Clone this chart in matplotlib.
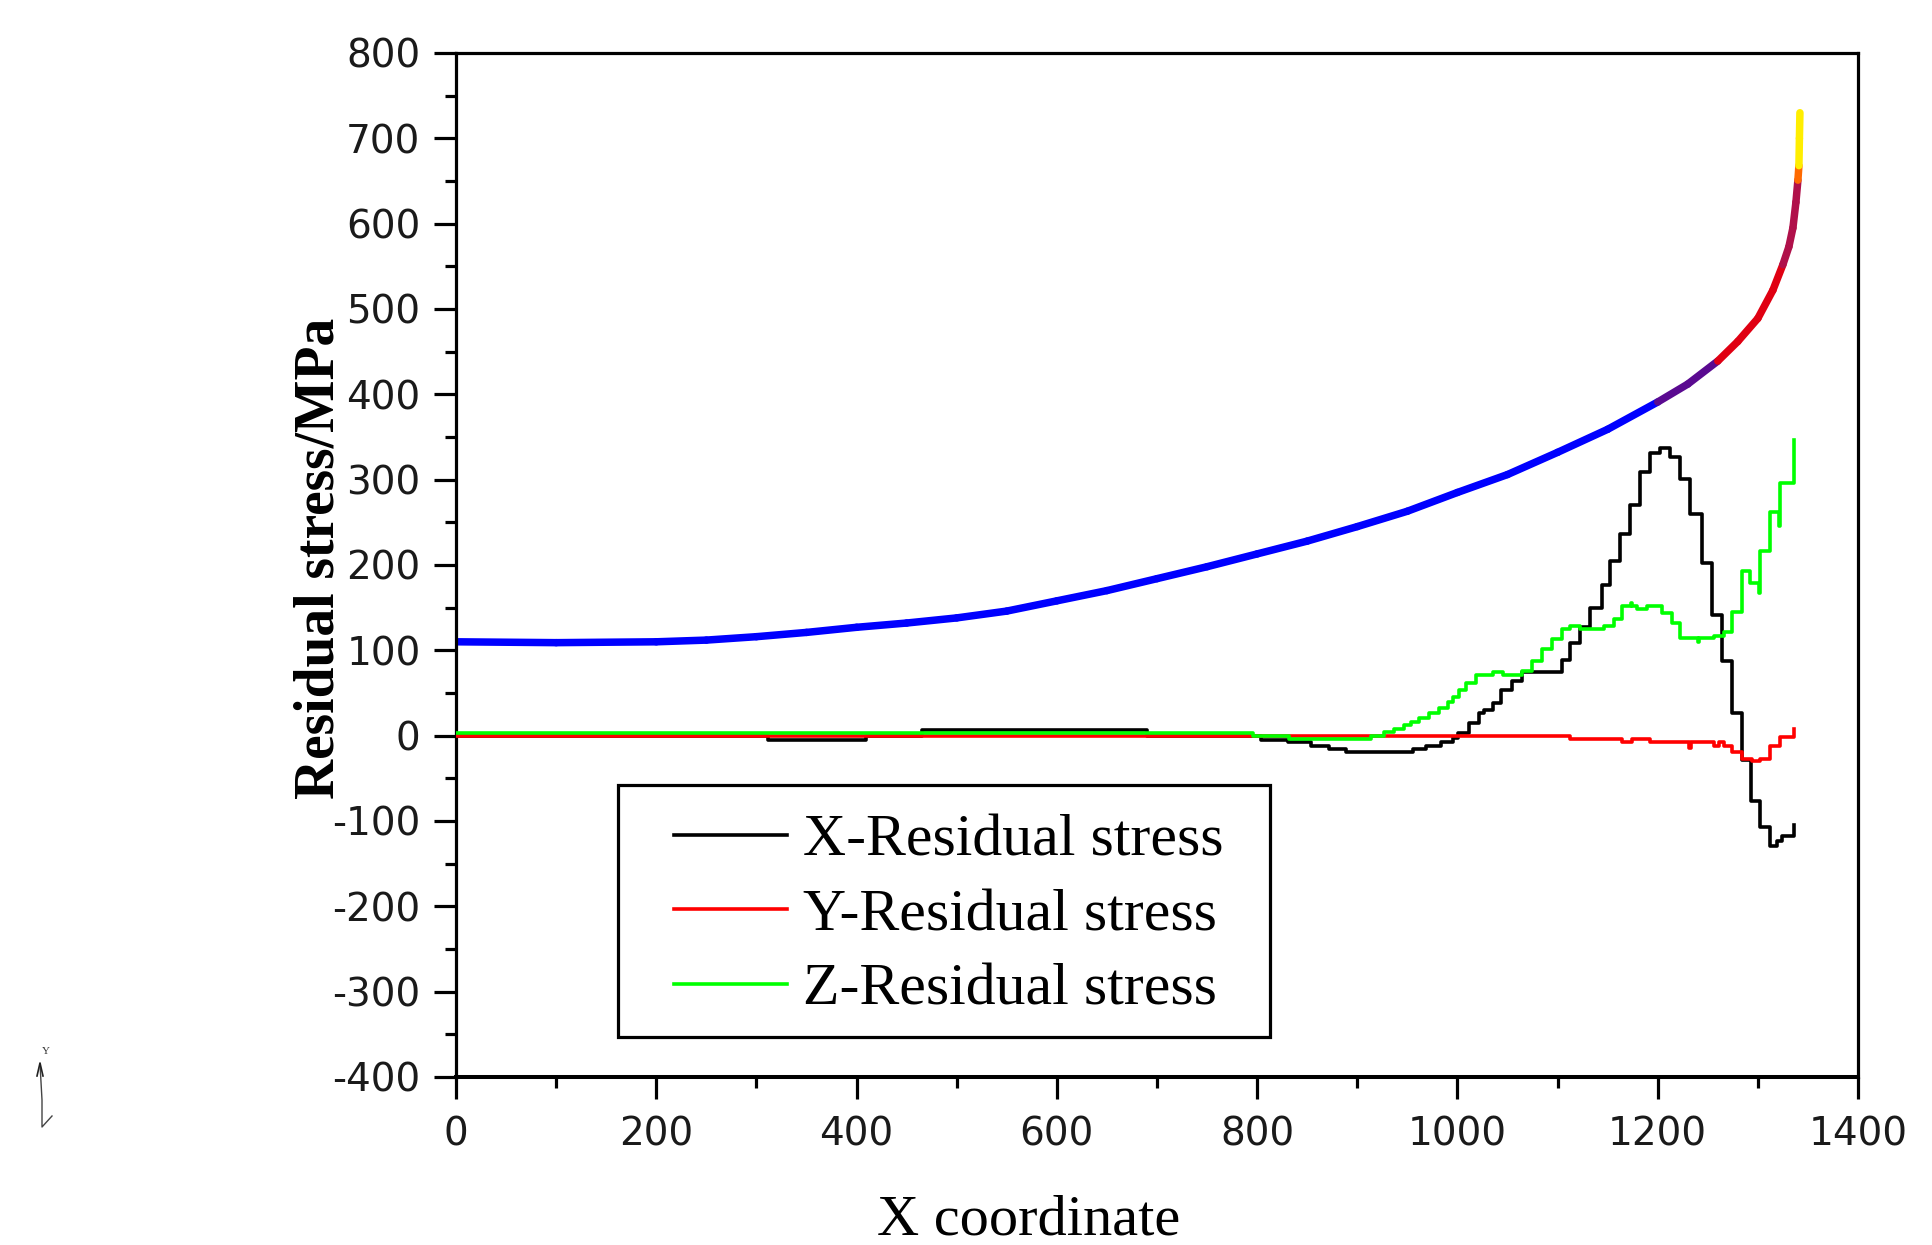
import matplotlib
matplotlib.use("Agg")
import matplotlib.pyplot as plt
import numpy as np
from matplotlib.collections import LineCollection
from matplotlib.colors import ListedColormap, BoundaryNorm
from matplotlib.lines import Line2D
from matplotlib.patches import Rectangle

plt.rcParams['axes.unicode_minus'] = False

# ---------------- data ----------------
# envelope curve (thick, colour-coded by value)
env_x = [0, 100, 200, 250, 300, 350, 400, 450, 500, 550, 600, 650, 700, 750, 800,
         850, 900, 950, 1000, 1050, 1100, 1150, 1200, 1230, 1260, 1280, 1300, 1315,
         1325, 1331, 1335, 1338, 1340, 1341, 1341.5, 1342]
env_y = [110, 109, 110, 112, 116, 121, 127, 132, 138, 146, 158, 170, 184, 198, 213,
         228, 245, 263, 285, 306, 332, 359, 391, 412, 439, 462, 489, 522,
         552, 573, 595, 625, 651, 668, 700, 730]

# X-Residual stress (step data)
sx_x = [0, 312, 409, 465, 690, 804, 831, 854, 872, 889, 956, 969, 984, 996, 1001,
        1012, 1022, 1027, 1036, 1044, 1054, 1064, 1104, 1112, 1122, 1132, 1144, 1152,
        1162, 1172, 1182, 1192, 1202, 1212, 1222, 1232, 1244, 1254, 1264, 1274, 1284,
        1293, 1302, 1312, 1319, 1324, 1336]
sx_y = [0, -5, 0, 7, 0, -5, -8, -12, -16, -19, -16, -12, -7, -3, 3,
        15, 27, 30, 38, 53, 64, 75, 89, 109, 127, 150, 177, 205,
        236, 270, 309, 331, 337, 326, 301, 260, 202, 141, 88, 27, -29,
        -77, -107, -129, -124, -117, -105]

# Y-Residual stress (step data)
sy_x = [0, 1112, 1164, 1174, 1192, 1231, 1233, 1256, 1261, 1266, 1274, 1284, 1294,
        1302, 1312, 1322, 1336]
sy_y = [0, -4, -7, -4, -7, -14, -7, -12, -7, -12, -19, -27, -30,
        -27, -12, -1, 8]

# Z-Residual stress (step data)
sz_x = [0, 796, 832, 914, 927, 937, 947, 954, 962, 972, 982, 991, 996, 1002, 1009,
        1019, 1036, 1046, 1064, 1074, 1084, 1094, 1104, 1112, 1122, 1146, 1156, 1164,
        1173, 1174, 1179, 1189, 1204, 1214, 1222, 1240, 1241, 1256, 1266, 1274, 1284,
        1292, 1301, 1302, 1312, 1321, 1322, 1336]
sz_y = [3.5, 0, -4, 0, 4, 8, 12, 16, 21, 27, 33, 39, 45, 53, 62,
        71, 75, 71, 76, 88, 102, 113, 125, 128, 125, 128, 137, 152,
        156, 152, 148, 152, 144, 132, 114, 110, 114, 117, 122, 145, 193,
        179, 167, 216, 262, 246, 296, 346]

series_labels = ["X-Residual stress", "Y-Residual stress", "Z-Residual stress"]
xticks = [0, 200, 400, 600, 800, 1000, 1200, 1400]
yticks = [-400, -300, -200, -100, 0, 100, 200, 300, 400, 500, 600, 700, 800]

# ---------------- figure ----------------
W, H = 1932, 1245
fig = plt.figure(figsize=(W / 100, H / 100), dpi=100)
L, R, T, B = 456, 1858, 53, 1077
ax = fig.add_axes([L / W, 1 - B / H, (R - L) / W, (B - T) / H])

# envelope curve coloured by value
ex = np.array(env_x, float)
ey = np.array(env_y, float)
pts = np.column_stack([ex, ey]).reshape(-1, 1, 2)
segs = np.concatenate([pts[:-1], pts[1:]], axis=1)
mid = 0.5 * (ey[:-1] + ey[1:])
cmap = ListedColormap(['#0000ff', '#5a0a90', '#e00012', '#b0104a', '#ff6a00', '#ffee00'])
norm = BoundaryNorm([-1000, 398, 428, 560, 645, 668, 2000], cmap.N)
lc = LineCollection(segs, cmap=cmap, norm=norm, linewidths=5.4, capstyle='round',
                    joinstyle='round', zorder=2)
lc.set_array(mid)
ax.add_collection(lc)

lw = 2.6
ax.step(sx_x, sx_y, where='post', color='#000000', lw=lw, label=series_labels[0], zorder=3)
ax.step(sy_x, sy_y, where='post', color='#ff0000', lw=lw, label=series_labels[1], zorder=4)
ax.step(sz_x, sz_y, where='post', color='#00ff00', lw=lw, label=series_labels[2], zorder=5)

ax.set_xlim(0, 1400)
ax.set_ylim(-400, 800)
ax.set_xticks(xticks)
ax.set_xticks(np.arange(0, 1401, 100), minor=True)
ax.set_yticks(yticks)
ax.set_yticks(np.arange(-400, 801, 50), minor=True)
ax.set_xticklabels([str(v) for v in xticks])
ax.set_yticklabels([str(v) for v in yticks])

for s in ax.spines.values():
    s.set_linewidth(2.3)
ax.spines['bottom'].set_linewidth(2.9)

ax.tick_params(axis='both', which='major', direction='out', length=15.5, width=2.3,
               labelsize=28, top=False, right=False)
ax.tick_params(axis='both', which='minor', direction='out', length=8, width=2.3,
               top=False, right=False)
ax.tick_params(axis='x', which='major', pad=12)
ax.tick_params(axis='y', which='major', pad=10)
for lab in ax.get_xticklabels() + ax.get_yticklabels():
    lab.set_fontfamily('DejaVu Sans')
    lab.set_color('#1a1a1a')

ax.set_ylabel("Residual stress/MPa", fontfamily='Liberation Serif', fontweight='bold',
              fontsize=40)
ax.yaxis.set_label_coords(-0.079, 0.506)
ax.set_xlabel("X coordinate", fontfamily='Liberation Serif', fontsize=42)
ax.xaxis.set_label_coords(0.4087, -0.115)

# legend with hand-drawn frame
box_l, box_r, box_t, box_b = 618, 1270, 785, 1037
to_ax_x = lambda px: (px - L) / (R - L)
to_ax_y = lambda py: (B - py) / (B - T)
ax.add_patch(Rectangle((to_ax_x(box_l), to_ax_y(box_b)),
                       to_ax_x(box_r) - to_ax_x(box_l), to_ax_y(box_t) - to_ax_y(box_b),
                       transform=ax.transAxes, fill=True, facecolor='white',
                       edgecolor='black', lw=2.3, zorder=6))
leg = ax.legend(loc='upper left', bbox_to_anchor=(to_ax_x(674), to_ax_y(814)),
                frameon=False, prop={'family': 'Liberation Serif', 'size': 43},
                handlelength=1.9, handletextpad=0.26, labelspacing=0.33,
                borderpad=0.0, borderaxespad=0.0)
leg.set_zorder(7)
for h in leg.get_lines():
    h.set_linewidth(2.6)

# small axis triad at lower left
tf = fig.transFigure
def fx(px):
    return px / W
def fy(py):
    return 1 - py / H
fig.add_artist(Line2D([fx(40), fx(42), fx(42), fx(52)], [fy(1064), fy(1100), fy(1127), fy(1116)],
                      color='#444444', lw=1.0, transform=tf))
fig.add_artist(Line2D([fx(37), fx(40), fx(43)], [fy(1076), fy(1063), fy(1076)],
                      color='#222222', lw=1.2, transform=tf))
fig.text(fx(46), fy(1052), "Y", fontsize=8, family='Liberation Serif', ha='center',
         va='center', color='#333333')

fig.savefig("out.png", dpi=100, facecolor='white')
